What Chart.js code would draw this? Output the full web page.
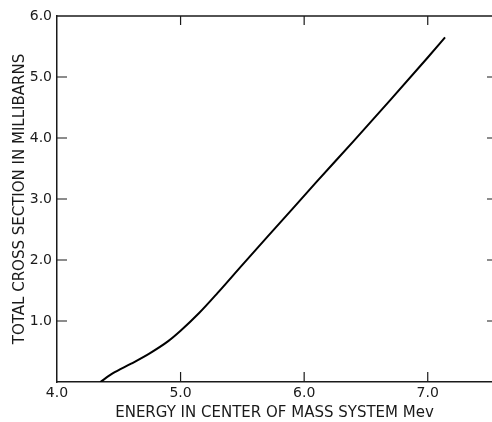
<!DOCTYPE html>
<html>
<head>
<meta charset="utf-8">
<script src="https://cdn.jsdelivr.net/npm/chart.js@4/dist/chart.umd.min.js"></script>
<style>
html,body{margin:0;padding:0;background:#fff;}
#wrap{width:492px;height:422px;position:relative;}
</style>
</head>
<body>
<div id="wrap"><canvas id="c" width="492" height="422"></canvas></div>
<script>
const energy = [4.35, 4.45, 4.60, 4.75, 4.90, 5.00, 5.15, 5.30, 5.50, 5.80, 6.10, 6.40, 6.70, 7.00, 7.14];
const crossSection = [0, 0.14, 0.30, 0.47, 0.67, 0.84, 1.13, 1.46, 1.92, 2.60, 3.28, 3.95, 4.63, 5.32, 5.65];
const xTicks = [4.0, 5.0, 6.0, 7.0];
const yTicks = [1.0, 2.0, 3.0, 4.0, 5.0, 6.0];
const xTitle = 'ENERGY IN CENTER OF MASS SYSTEM Mev';
const yTitle = 'TOTAL CROSS SECTION IN MILLIBARNS';

const FONT = {family: 'DejaVu Sans', size: 14};
const TITLE_FONT = {family: 'DejaVu Sans', size: 15};
const INK = '#1a1a1a';

const frame = {
  id: 'frame',
  afterDatasetsDraw(chart) {
    const {ctx, chartArea: a, scales: {x, y}} = chart;
    ctx.save();
    ctx.strokeStyle = INK;
    ctx.lineWidth = 1.5;
    ctx.beginPath();
    ctx.moveTo(a.left, a.top);
    ctx.lineTo(a.right, a.top);
    ctx.stroke();
    ctx.lineWidth = 1.2;
    xTicks.forEach(v => {
      if (v <= x.min) return;
      const px = x.getPixelForValue(v);
      ctx.beginPath();
      ctx.moveTo(px, a.bottom); ctx.lineTo(px, a.bottom - 10);
      ctx.moveTo(px, a.top); ctx.lineTo(px, a.top + 9);
      ctx.stroke();
    });
    yTicks.forEach(v => {
      if (v >= y.max) return;
      const py = y.getPixelForValue(v);
      ctx.beginPath();
      ctx.moveTo(a.left, py); ctx.lineTo(a.left + 10, py);
      ctx.moveTo(a.right, py); ctx.lineTo(a.right - 5, py);
      ctx.stroke();
    });
    ctx.restore();
  }
};

new Chart(document.getElementById('c'), {
  type: 'line',
  data: {
    datasets: [{
      data: energy.map((e, i) => ({x: e, y: crossSection[i]})),
      borderColor: '#000',
      borderWidth: 2,
      pointRadius: 0,
      cubicInterpolationMode: 'monotone',
      fill: false
    }]
  },
  options: {
    responsive: false,
    animation: false,
    devicePixelRatio: 1,
    layout: {padding: {top: 16, right: 0, left: 0, bottom: 0}},
    plugins: {legend: {display: false}, tooltip: {enabled: false}},
    scales: {
      x: {
        type: 'linear',
        min: 4.0,
        max: 7.52,
        afterFit(s) { s.height = 40; },
        afterBuildTicks(s) { s.ticks = xTicks.map(v => ({value: v})); },
        grid: {display: false, drawTicks: false},
        border: {display: true, color: INK, width: 1.5},
        ticks: {color: INK, font: FONT, padding: 3, maxRotation: 0, callback: v => v.toFixed(1)},
        title: {display: true, text: xTitle, color: INK, font: TITLE_FONT, padding: {top: 0, bottom: 0}}
      },
      y: {
        type: 'linear',
        min: 0,
        max: 6.0,
        afterFit(s) { s.width = 57; },
        afterBuildTicks(s) { s.ticks = yTicks.map(v => ({value: v})); },
        grid: {display: false, drawTicks: false},
        border: {display: true, color: INK, width: 1.5},
        ticks: {color: INK, font: FONT, padding: 5, callback: v => v.toFixed(1)},
        title: {display: true, text: yTitle, color: INK, font: TITLE_FONT, padding: {top: 11, bottom: 0}}
      }
    }
  },
  plugins: [frame]
});
</script>
</body>
</html>
